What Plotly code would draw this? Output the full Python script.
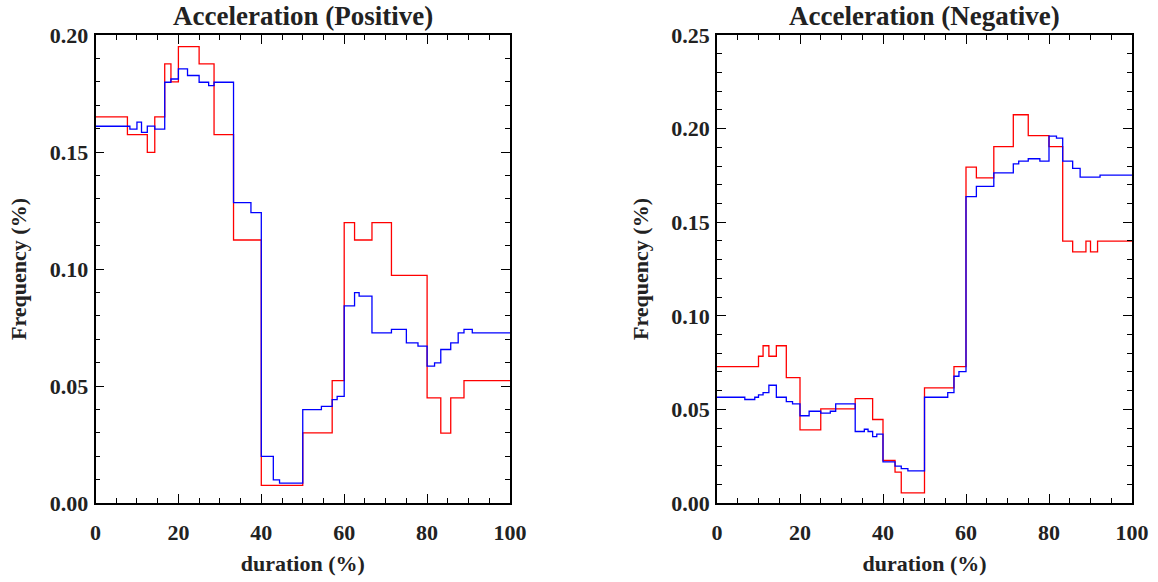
import plotly.graph_objects as go

# ---- data ----
pos_red_edges = [0, 7.7, 12.5, 14.3, 16.7, 18.2, 20, 25, 28.6, 33.3, 40, 50, 57.1, 60, 62.5, 66.7, 71.4, 80, 83.3, 85.7, 88.9, 100]
pos_red_vals = [0.165, 0.1574, 0.1498, 0.165, 0.1877, 0.180, 0.195, 0.1877, 0.1574, 0.1124, 0.0075, 0.030, 0.0523,
                0.1198, 0.1124, 0.1198, 0.0973, 0.0449, 0.0299, 0.0449, 0.0523]

pos_blue_edges = [0, 8.3, 10, 11.1, 12.5, 14.3, 16.7, 18.2, 20, 22.2, 25, 27.3, 28.6, 33.3, 37.5, 40, 42.9, 44.4, 50,
                  54.5, 57.1, 58.3, 60, 62.5, 63.6, 66.7, 71.4, 75, 77.8, 80, 81.8, 83.3, 85.7, 87.5, 88.9, 90.9, 100]
pos_blue_vals = [0.161, 0.1598, 0.1628, 0.1584, 0.1611, 0.1598, 0.1798, 0.1812, 0.1855, 0.1827, 0.1798, 0.1784,
                 0.1798, 0.1284, 0.1241, 0.0199, 0.0099, 0.0085, 0.0399, 0.0413, 0.0442, 0.0456, 0.0842, 0.0899,
                 0.0884, 0.0727, 0.0742, 0.0684, 0.0670, 0.0585, 0.0599, 0.0656, 0.0684, 0.0727, 0.0742, 0.0727]

neg_red_edges = [0, 10, 11.1, 12.5, 14.3, 16.7, 20, 25, 33.3, 37.5, 40, 42.9, 44.4, 50, 57.1, 60, 62.5, 66.7, 71.4,
                 75, 80, 83.3, 85.7, 88.9, 90, 91.7, 100]
neg_red_vals = [0.0729, 0.0784, 0.0840, 0.0784, 0.0840, 0.0670, 0.0391, 0.0503, 0.0558, 0.0446, 0.0227, 0.0165,
                0.0054, 0.0615, 0.0729, 0.1794, 0.1737, 0.1904, 0.2074, 0.1963, 0.1904, 0.1399, 0.1342, 0.1399,
                0.1342, 0.1399]

neg_blue_edges = [0, 6.7, 9.1, 10, 11.1, 12.5, 14.3, 16.7, 18.2, 20, 22.2, 25, 27.3, 28.6, 33.3, 35.5, 36.4, 37.5,
                  38.5, 40, 42.9, 44.4, 46, 50, 55.6, 57.1, 58.3, 60, 62.5, 66.7, 71.4, 72.7, 75, 77.8, 80, 81.8,
                  83.3, 85.7, 87.5, 92.3, 100]
neg_blue_vals = [0.0565, 0.0553, 0.0565, 0.0578, 0.0590, 0.0629, 0.0565, 0.0542, 0.0530, 0.0466, 0.0490, 0.0480,
                 0.0490, 0.0530, 0.0382, 0.0394, 0.0382, 0.0355, 0.0368, 0.0220, 0.0197, 0.0184, 0.0172, 0.0565,
                 0.0590, 0.0677, 0.0702, 0.1637, 0.1691, 0.1764, 0.1812, 0.1826, 0.1839, 0.1826, 0.1960, 0.1949,
                 0.1826, 0.1788, 0.1741, 0.1751]

titles = ["Acceleration (Positive)", "Acceleration (Negative)"]
x_title = "duration (%)"
y_title = "Frequency (%)"
x_ticks = [0, 20, 40, 60, 80, 100]
left_y_ticks = [0.00, 0.05, 0.10, 0.15, 0.20]
right_y_ticks = [0.00, 0.05, 0.10, 0.15, 0.20, 0.25]

RED = "#ff0000"
BLUE = "#0000ff"
FONT = "Liberation Serif"
TXT = "#222222"

fig = go.Figure()


def step(edges, vals, color, xa, ya):
    fig.add_trace(go.Scatter(
        x=edges, y=list(vals) + [vals[-1]], mode="lines", line_shape="hv",
        line=dict(color=color, width=1.3), xaxis=xa, yaxis=ya, showlegend=False,
        hoverinfo="skip"))


step(pos_red_edges, pos_red_vals, RED, "x", "y")
step(pos_blue_edges, pos_blue_vals, BLUE, "x", "y")
step(neg_red_edges, neg_red_vals, RED, "x2", "y2")
step(neg_blue_edges, neg_blue_vals, BLUE, "x2", "y2")

W, H = 1158, 582
dom_x1 = [95.5 / W, 510 / W]
dom_x2 = [717 / W, 1132 / W]
dom_y = [(H - 503) / H, (H - 35) / H]

tickfont = dict(family=FONT, size=22, color=TXT, weight="bold")
titlefont = dict(family=FONT, size=22, color=TXT, weight="bold")


def xaxis(dom, anchor):
    return dict(domain=dom, anchor=anchor, range=[0, 100], tickvals=x_ticks, automargin=False,
                ticktext=[str(v) for v in x_ticks], ticks="inside", ticklen=9, tickwidth=1,
                tickcolor="#000", showline=True, linecolor="#000", linewidth=1.5, mirror="allticks",
                showgrid=False, zeroline=False, tickfont=tickfont, ticklabelstandoff=9,
                minor=dict(dtick=5, ticks="inside", ticklen=5, tickcolor="#000", showgrid=False),
                title=dict(text=x_title, font=titlefont, standoff=11))


def yaxis(dom, anchor, rng, ticks):
    return dict(domain=dom, anchor=anchor, range=rng, tickvals=ticks, automargin=False,
                ticktext=["%.2f" % v for v in ticks], ticks="inside", ticklen=9, tickwidth=1,
                tickcolor="#000", showline=True, linecolor="#000", linewidth=1.5, mirror="allticks",
                showgrid=False, zeroline=False, tickfont=tickfont, ticklabelstandoff=1,
                minor=dict(dtick=0.01, ticks="inside", ticklen=5, tickcolor="#000", showgrid=False),
                title=dict(text=y_title, font=titlefont, standoff=17))


fig.update_layout(
    width=W, height=H, margin=dict(l=0, r=0, t=0, b=0, autoexpand=False),
    paper_bgcolor="white", plot_bgcolor="white",
    xaxis=xaxis(dom_x1, "y"), yaxis=yaxis(dom_y, "x", [0, 0.20], left_y_ticks),
    xaxis2=xaxis(dom_x2, "y2"), yaxis2=yaxis(dom_y, "x2", [0, 0.25], right_y_ticks),
)

for i, (t, dom) in enumerate(zip(titles, [dom_x1, dom_x2])):
    fig.add_annotation(text=t, x=(dom[0] + dom[1]) / 2, y=1, xref="paper", yref="paper",
                       xanchor="center", yanchor="top", showarrow=False, borderpad=0,
                       font=dict(family=FONT, size=27, color=TXT, weight="bold"))

fig.write_html("out.html")
